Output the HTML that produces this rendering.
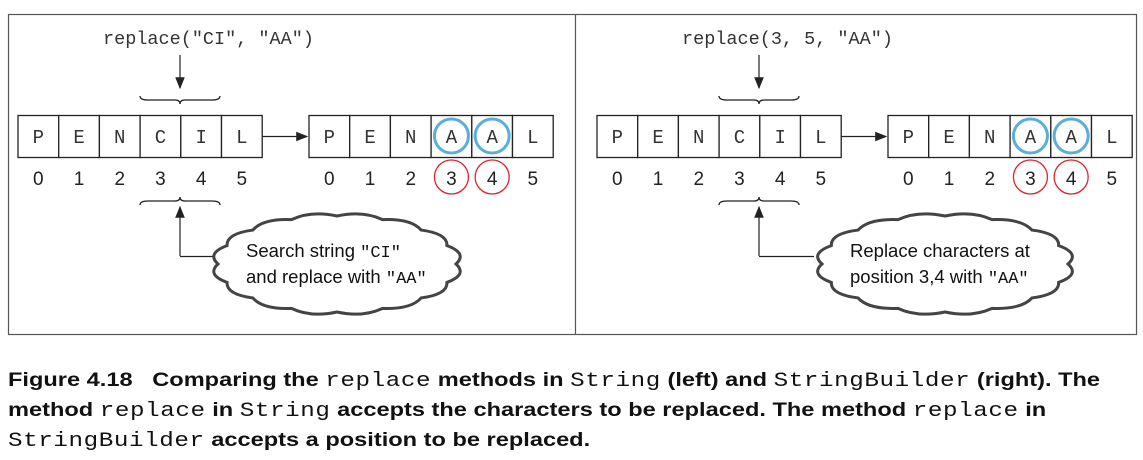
<!DOCTYPE html>
<html><head><meta charset="utf-8"><style>
body{margin:0;background:#fff;width:1143px;height:460px;overflow:hidden}
svg{position:absolute;left:0;top:0}
.cap{position:absolute;left:8px;top:366px;font:bold 19.5px "Liberation Sans",sans-serif;line-height:29px;color:#111;white-space:nowrap;transform:scaleX(1.21);transform-origin:0 0}
.m{font-family:"Liberation Mono",monospace;font-weight:normal;font-size:20px;letter-spacing:0.5px}
</style></head><body>
<svg id="s" width="1143" height="340"></svg>
<div class="cap">Figure 4.18&nbsp;&nbsp;&nbsp;Comparing the <span class="m">replace</span> methods in <span class="m">String</span> (left) and <span class="m">StringBuilder</span> (right). The<br>method <span class="m">replace</span> in <span class="m">String</span> accepts the characters to be replaced. The method <span class="m">replace</span> in<br><span class="m">StringBuilder</span> accepts a position to be replaced.</div>
<script>
const before=['P','E','N','C','I','L'];
const after=['P','E','N','A','A','L'];
const idx=['0','1','2','3','4','5'];
const hl=[3,4];
const NS='http://www.w3.org/2000/svg';
const s=document.getElementById('s');
function el(t,a,txt){const e=document.createElementNS(NS,t);for(const k in a)e.setAttribute(k,a[k]);if(txt!==undefined)e.textContent=txt;s.appendChild(e);return e;}
const fr=el('rect',{x:8.5,y:14.5,width:1128,height:320,fill:'none',stroke:'#555','stroke-width':1.2});

el('line',{x1:575.5,y1:14,x2:575.5,y2:335,stroke:'#555','stroke-width':1.2});
el('defs',{}).innerHTML='<marker id="ar" markerWidth="10" markerHeight="8" refX="9" refY="4" orient="auto"><path d="M0,0 L10,4 L0,8z" fill="#222"/></marker>';
function row(x0,chars,circ){const w=40.7;
 chars.forEach((c,i)=>{const r=el('rect',{x:x0+i*w,y:115.5,width:w,height:42,fill:'#fff',stroke:'#222','stroke-width':1.3});
  
  el('text',{x:x0+i*w+w/2,y:143,'text-anchor':'middle','font-family':'Liberation Mono,monospace','font-size':19,fill:'#333'},c);
  const t=el('text',{x:x0+i*w+w/2,y:185,'text-anchor':'middle','font-family':'Liberation Sans,sans-serif','font-size':19,fill:'#222'},idx[i]);
  
  if(circ&&hl.includes(i)){el('circle',{cx:x0+i*w+w/2,cy:136,r:17,fill:'none',stroke:'#5aafd8','stroke-width':3});
   el('circle',{cx:x0+i*w+w/2,cy:177,r:17,fill:'none',stroke:'#d9252a','stroke-width':1.3});}
 });}
function brace(x1,x2,y,d){const m=(x1+x2)/2;
 el('path',{d:`M${x1},${y+d*4} Q${x1},${y} ${x1+8},${y} L${m-5},${y} Q${m},${y} ${m},${y-d*4} Q${m},${y} ${m+5},${y} L${x2-8},${y} Q${x2},${y} ${x2},${y+d*4}`,fill:'none',stroke:'#222','stroke-width':1.3});}
function cloud(cx,cy,rx,ry){let d='';const n=16;
 for(let i=0;i<=n;i++){const a=i/n*2*Math.PI;const x=cx+rx*Math.cos(a),y=cy+ry*Math.sin(a);
  if(i===0)d+=`M${x},${y}`;else{const am=(i-0.5)/n*2*Math.PI;d+=` Q${cx+rx*1.12*Math.cos(am)},${cy+ry*1.14*Math.sin(am)} ${x},${y}`;}}
 const p=el('path',{d:d+'Z',fill:'#fff',stroke:'#444','stroke-width':3});}
function panel(ox,call,l1,l2,b1,b2){
 const t=el('text',{x:ox+103,y:44,'font-family':'Liberation Mono,monospace','font-size':18.5,fill:'#333'},call);
 
 el('line',{x1:ox+180,y1:55,x2:ox+180,y2:88,stroke:'#222','stroke-width':1.2,'marker-end':'url(#ar)'});
 brace(ox+140,ox+220,100,-1);
 row(ox+18,before,false);
 el('line',{x1:ox+262,y1:136.5,x2:ox+307,y2:136.5,stroke:'#222','stroke-width':1.2,'marker-end':'url(#ar)'});
 row(ox+309,after,true);
 brace(ox+140,ox+220,201,1);
 el('polyline',{points:`${ox+180},${256} ${ox+180},${207}`,fill:'none',stroke:'#222','stroke-width':1.2,'marker-end':'url(#ar)'});
 el('line',{x1:ox+180,y1:256.5,x2:ox+235,y2:256.5,stroke:'#222','stroke-width':1.2});
 cloud(ox+b1,264,b2,48);
 const a=el('text',{x:ox+b1-b2+28,y:257,'font-family':'Liberation Sans,sans-serif','font-size':18.5,fill:'#111'});a.innerHTML=l1;
 const b=el('text',{x:ox+b1-b2+28,y:283,'font-family':'Liberation Sans,sans-serif','font-size':18.5,fill:'#111'});b.innerHTML=l2;}
panel(0,'replace("CI", "AA")','Search string <tspan font-family="Liberation Mono" font-size="17">"CI"</tspan>','and replace with <tspan font-family="Liberation Mono" font-size="17">"AA"</tspan>',337,119);
panel(579,'replace(3, 5, "AA")','Replace characters at','position 3,4 with <tspan font-family="Liberation Mono" font-size="17">"AA"</tspan>',366,123);
</script>
</body></html>
